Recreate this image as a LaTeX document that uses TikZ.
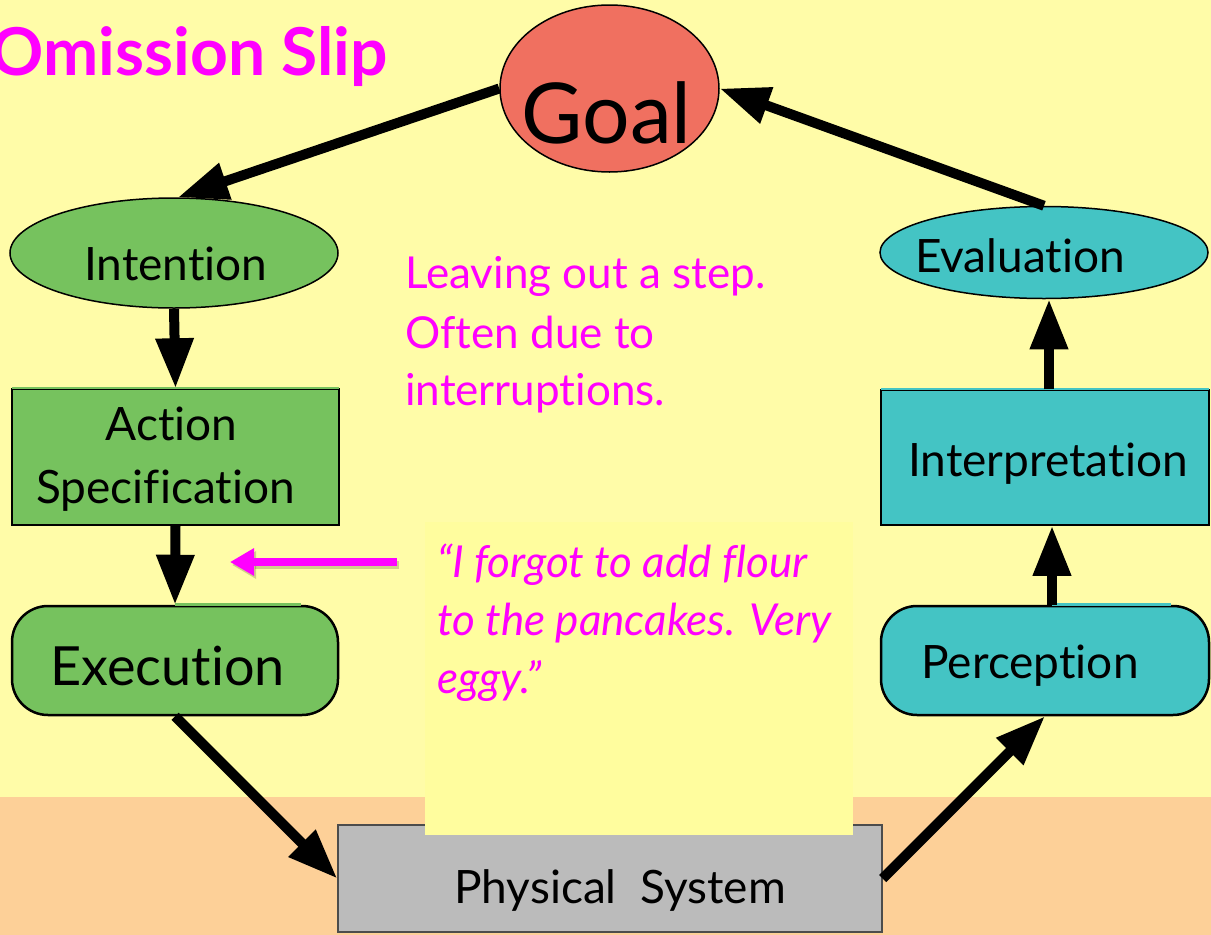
\documentclass[tikz,border=0pt]{standalone}
\usepackage{fontspec}
\setmainfont{Lato}[Ligatures={NoCommon}]
\usetikzlibrary{arrows.meta,shapes.geometric,calc}
\definecolor{bgyellow}{HTML}{FFFCA8}
\definecolor{band}{HTML}{FDD098}
\definecolor{sticky}{HTML}{FFFD9E}
\definecolor{goalfill}{HTML}{F07060}
\definecolor{greenfill}{HTML}{76C25E}
\definecolor{tealfill}{HTML}{44C4C4}
\definecolor{grayfill}{HTML}{BBBBBB}
\definecolor{mag}{HTML}{FF00FF}
\tikzset{
  ell/.style={ellipse, draw=black, line width=1.5pt, inner sep=0pt},
  sqbox/.style={rectangle, draw=black, line width=1.5pt, inner sep=0pt},
  rbox/.style={rectangle, rounded corners=36pt, draw=black, line width=2.5pt, inner sep=0pt},
  flow/.style={line width=10pt, -{Triangle[length=50pt,width=36pt]}},
  lbl/.style={anchor=base, inner sep=0pt, text=black},
  pink/.style={anchor=base west, inner sep=0pt, text=mag},
}
\begin{document}
\begin{tikzpicture}[x=1pt,y=1pt]
\useasboundingbox (0,0) rectangle (1211,-935);
\fill[bgyellow] (0,0) rectangle (1211,-935);
\fill[band] (0,-797) rectangle (1211,-935);

% shapes
\node[ell, fill=goalfill, minimum width=219pt, minimum height=167pt] (goal) at (609.5,-88.5) {};
\node[ell, fill=greenfill, minimum width=328pt, minimum height=110pt] (intention) at (174,-253) {};
\node[sqbox, fill=greenfill, minimum width=327pt, minimum height=136pt] (action) at (175.5,-457) {};
\node[rbox, fill=greenfill, minimum width=326pt, minimum height=109pt] (exec) at (175,-660.5) {};
\node[ell, fill=tealfill, minimum width=328pt, minimum height=92pt] (eval) at (1044,-252.5) {};
\node[sqbox, fill=tealfill, minimum width=328pt, minimum height=135pt] (interp) at (1045,-457.5) {};
\node[rbox, fill=tealfill, minimum width=328pt, minimum height=109pt] (perc) at (1045,-660.5) {};
\node[sqbox, fill=grayfill, draw=black!70, minimum width=544pt, minimum height=107pt] (phys) at (610,-878.5) {};

% border gaps as in the original
\draw[greenfill, line width=1.6pt] ($(action.north west)+(1,0)$) -- ($(action.north east)+(-1,0)$);
\draw[tealfill, line width=1.6pt] ($(interp.north west)+(1,0)$) -- ($(interp.north east)+(-1,0)$);
\draw[greenfill, line width=2.8pt] (exec.north) -- ($(exec.north east)+(-38,0)$);
\draw[tealfill, line width=2.8pt] ($(perc.north)+(7,0)$) -- ($(perc.north east)+(-39,0)$);

% connectors
\draw[flow] (goal.west) -- ($(intention.north)+(4,0)$);
\draw[flow] (intention.south) -- (action.north);
\draw[flow] (action.south) -- (exec.north);
\draw[flow] (exec.south) -- (phys.west);
\draw[flow] (phys.east) -- (perc.south);
\draw[flow] ($(perc.north)+(7,0)$) -- ($(interp.south)+(7,0)$);
\draw[flow] ($(interp.north)+(4,0)$) -- ($(eval.south)+(5,0)$);
\draw[flow] (eval.north) -- (goal.east);

% sticky note
\fill[sticky] (425,-522) rectangle (853,-835);

% magenta pointer
\coordinate (ptrstart) at (397,-562);
\coordinate (ptrend) at (230,-562);
\draw[black, opacity=0.18, line width=8pt, -{Triangle[length=24pt,width=26pt]}] ($(ptrstart)+(2,-3)$) -- ($(ptrend)+(2,-3)$);
\draw[mag, line width=8pt, -{Triangle[length=24pt,width=26pt]}] (ptrstart) -- (ptrend);

% texts
\node[anchor=base east, inner sep=0pt, text=mag, font=\fontsize{66}{72}\selectfont\bfseries] (title) at (388,-75) {Omission Slip};
\node[lbl, font=\fontsize{84}{90}\selectfont] (goaltxt) at (606.5,-143) {Goal};
\node[lbl, font=\fontsize{46}{52}\selectfont] (inttxt) at (176,-280) {Intention};
\node[lbl, font=\fontsize{46}{52}\selectfont] (acttxt) at (171.5,-440) {Action};
\node[lbl, font=\fontsize{46}{52}\selectfont] (spectxt) at (165.5,-503) {Specification};
\node[lbl, font=\fontsize{54}{60}\selectfont] (exectxt) at (167.5,-685) {Execution};
\node[lbl, font=\fontsize{46}{52}\selectfont] (evaltxt) at (1020,-272) {Evaluation};
\node[lbl, font=\fontsize{46}{52}\selectfont] (interptxt) at (1048,-476) {Interpretation};
\node[lbl, font=\fontsize{46}{52}\selectfont] (perctxt) at (1030,-678) {Perception};
\node[lbl, font=\fontsize{46}{50}\selectfont] (phystxt) at (620,-903) {Physical\ \ System};
\node[pink, font=\fontsize{44}{50}\selectfont] (note1) at (405,-288) {Leaving out a step.};
\node[pink, font=\fontsize{44}{50}\selectfont] (note2) at (405,-348) {Often due to};
\node[pink, font=\fontsize{44}{50}\selectfont] (note3) at (405,-405) {interruptions.};
\node[pink, font=\fontsize{44}{50}\selectfont\itshape] (quote1) at (437,-577) {“I forgot to add flour};
\node[pink, font=\fontsize{44}{50}\selectfont\itshape] (quote2) at (437,-635) {to the pancakes. Very};
\node[pink, font=\fontsize{44}{50}\selectfont\itshape] (quote3) at (437,-693) {eggy.”};
\end{tikzpicture}
\end{document}
